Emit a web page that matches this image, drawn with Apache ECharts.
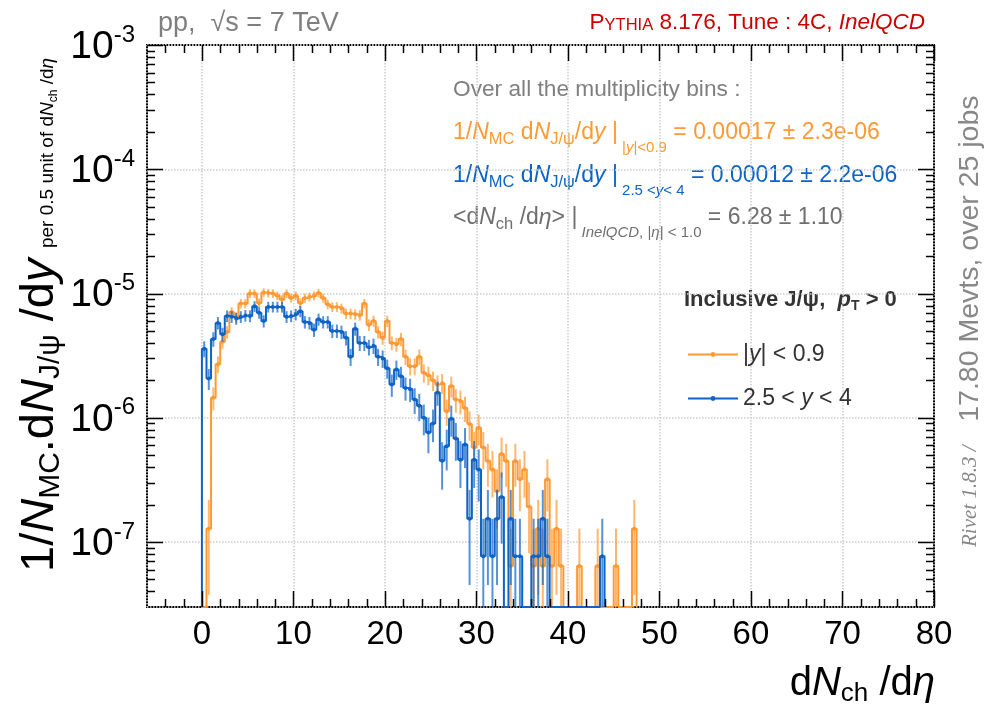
<!DOCTYPE html>
<html>
<head>
<meta charset="utf-8">
<script src="https://cdn.jsdelivr.net/npm/echarts@6/dist/echarts.min.js"></script>
<style>
  html, body { margin: 0; padding: 0; background: #fff; }
  #chart { width: 992px; height: 713px; }
</style>
</head>
<body>
<div id="chart"></div>
<script>
// histogram binning (per 0.5 unit of dNch/deta, first bin starts at 0)
var binStart = 0;
var binWidth = 0.5;

// |y| < 0.9 (orange), one value per bin
var centralVals = [
  0, 1.28e-7, 1.45e-6, 2.7e-6, 4.1e-6, 4.9e-6, 7.1e-6, 6.4e-6, 8.3e-6, 8.3e-6,
  1.0e-5, 1.0e-5, 8.4e-6, 1.02e-5, 1.01e-5, 1.0e-5, 9.6e-6, 8.95e-6, 1.0e-5, 9.2e-6,
  9.6e-6, 8.4e-6, 9.2e-6, 9.4e-6, 9.6e-6, 1.01e-5, 9.2e-6, 8.2e-6, 7.8e-6, 7.8e-6,
  7.6e-6, 6.9e-6, 6.9e-6, 6.8e-6, 6.7e-6, 8.3e-6, 5.6e-6, 6.0e-6, 4.9e-6, 4.4e-6,
  6.0e-6, 4.0e-6, 3.9e-6, 4.3e-6, 3.1e-6, 2.6e-6, 2.6e-6, 3.1e-6, 2.3e-6, 2.2e-6,
  2.0e-6, 1.85e-6, 1.9e-6, 1.13e-6, 1.8e-6, 1.4e-6, 1.36e-6, 1.2e-6, 8.9e-7, 5.76e-7,
  8.3e-7, 5.76e-7, 4.48e-7, 3.84e-7, 2.56e-7, 5.12e-7, 4.48e-7, 6.4e-8, 4.48e-7, 3.2e-7,
  3.84e-7, 1.92e-7, 6.4e-8, 1.28e-7, 6.4e-8, 3.2e-7, 6.4e-8, 1.28e-7, 6.4e-8, 0,
  0, 0, 6.4e-8, 0, 0, 0, 6.4e-8, 0, 0, 0,
  6.4e-8, 0, 0, 0, 1.28e-7
];

// 2.5 < y < 4 (blue)
var forwardVals = [
  3.6e-6, 2.07e-6, 4.3e-6, 5.8e-6, 4.7e-6, 6.6e-6, 6.5e-6, 6.3e-6, 6.5e-6, 6.65e-6,
  6.6e-6, 7.9e-6, 7.0e-6, 6.0e-6, 7.8e-6, 7.8e-6, 7.8e-6, 7.8e-6, 6.5e-6, 6.6e-6,
  6.8e-6, 7.2e-6, 5.9e-6, 5.8e-6, 5.1e-6, 6.2e-6, 5.9e-6, 5.9e-6, 5.0e-6, 5.0e-6,
  4.9e-6, 4.4e-6, 3.1e-6, 5.2e-6, 4.0e-6, 4.0e-6, 3.7e-6, 3.8e-6, 3.1e-6, 3.0e-6,
  2.5e-6, 1.85e-6, 2.45e-6, 2.16e-6, 1.74e-6, 1.7e-6, 1.4e-6, 1.25e-6, 1.0e-6, 7.6e-7,
  9.0e-7, 1.6e-6, 4.5e-7, 5.9e-7, 9.8e-7, 6.8e-7, 4.6e-7, 6.1e-7, 1.54e-7, 4.6e-7,
  3.84e-7, 7.7e-8, 1.54e-7, 7.7e-8, 1.54e-7, 2.3e-7, 0, 1.54e-7, 7.7e-8, 7.7e-8,
  0, 0, 7.7e-8, 7.7e-8, 1.54e-7, 7.7e-8, 0, 0, 0, 0,
  0, 0, 0, 0, 0, 0, 0, 7.7e-8
];

// weight of a single event in each histogram (smallest non-empty bin)
var centralEventWeight = 6.4e-8;
var forwardEventWeight = 7.7e-8;

// axes
var xMin = -6, xMax = 80;
var yMin = 3e-8, yMax = 1e-3;
var xTickLabels = ['0', '10', '20', '30', '40', '50', '60', '70', '80'];
var yDecades = [-7, -6, -5, -4, -3];

var xMajorTicks = xTickLabels.map(Number);
var xMinorTicks = [];
for (var t = -4; t < xMax; t += 2) { if (t % 10 !== 0) xMinorTicks.push(t); }
var yMajorTicks = yDecades.map(function (d) { return Math.pow(10, d); });
var yMinorTicks = [];
for (var d = -8; d <= -4; d++) {
  for (var k = 2; k <= 9; k++) {
    var v = k * Math.pow(10, d);
    if (v > yMin * 1.0001 && v < yMax) yMinorTicks.push(v);
  }
}

var FONT = '"Liberation Sans", Arial, Helvetica, sans-serif';
var ORANGE = '#ff9933';
var BLUE = '#0d64c6';
var GREY = '#7f7f7f';

function stepData(vals) {
  var out = [[binStart, yMin]];
  for (var i = 0; i < vals.length; i++) {
    out.push([binStart + i * binWidth, vals[i] > 0 ? vals[i] : yMin]);
  }
  var xEnd = binStart + vals.length * binWidth;
  var last = vals[vals.length - 1];
  out.push([xEnd, last > 0 ? last : yMin]);
  out.push([xEnd, yMin]);
  return out;
}

function errData(vals, w) {
  var out = [];
  for (var i = 0; i < vals.length; i++) {
    if (vals[i] > 0) out.push([binStart + (i + 0.5) * binWidth, vals[i], Math.sqrt(vals[i] * w)]);
  }
  return out;
}

function errRender(color) {
  return function (params, api) {
    var cs = params.coordSys;
    var x = api.value(0), v = api.value(1), e = api.value(2);
    var c = api.coord([x, v]);
    var top = Math.max(api.coord([x, v + e])[1], cs.y);
    var bottom = cs.y + cs.height;
    var lo = v - e > yMin ? api.coord([x, v - e])[1] : bottom;
    return {
      type: 'group',
      children: [
        { type: 'line', shape: { x1: c[0], y1: top, x2: c[0], y2: Math.min(lo, bottom) },
          style: { stroke: color, lineWidth: 2, opacity: 0.7 } },
        { type: 'circle', shape: { cx: c[0], cy: c[1], r: 2 }, style: { fill: color } }
      ]
    };
  };
}

// ticks on all four sides, drawn through the axis scales
function xTickRender(params, api) {
  var cs = params.coordSys;
  var px = Math.round(api.coord([api.value(0), yMax])[0]) + 0.5;
  var len = api.value(2);
  var b = cs.y + cs.height;
  return {
    type: 'group',
    children: [
      { type: 'line', shape: { x1: px, y1: b, x2: px, y2: b - len }, style: { stroke: '#000', lineWidth: 1.5 } },
      { type: 'line', shape: { x1: px, y1: cs.y, x2: px, y2: cs.y + len }, style: { stroke: '#000', lineWidth: 1.5 } }
    ]
  };
}
function yTickRender(params, api) {
  var cs = params.coordSys;
  var py = Math.round(api.coord([xMin, api.value(1)])[1]) + 0.5;
  var len = api.value(2);
  var r = cs.x + cs.width;
  return {
    type: 'group',
    children: [
      { type: 'line', shape: { x1: cs.x, y1: py, x2: cs.x + len, y2: py }, style: { stroke: '#000', lineWidth: 1.5 } },
      { type: 'line', shape: { x1: r, y1: py, x2: r - len, y2: py }, style: { stroke: '#000', lineWidth: 1.5 } }
    ]
  };
}

var xTickData = xMajorTicks.map(function (x) { return [x, 1e-5, 16]; })
  .concat(xMinorTicks.map(function (x) { return [x, 1e-5, 8]; }));
var yTickData = yMajorTicks.map(function (y) { return [0, y, 16]; })
  .concat(yMinorTicks.map(function (y) { return [0, y, 8]; }));

// rich text style helper
function rs(size, lh, extra) {
  var o = { fontSize: size, fontFamily: FONT, lineHeight: lh, verticalAlign: 'middle' };
  if (extra) for (var key in extra) o[key] = extra[key];
  return o;
}
function annoRich(color) {
  return {
    n: rs(23, 30, { fill: color }),
    i: rs(23, 30, { fill: color, fontStyle: 'italic' }),
    s: rs(16.5, 30, { fill: color, padding: [12, 0, 0, 0] }),
    ss: rs(15, 30, { fill: color, padding: [30, 0, 0, 0] }),
    ssi: rs(15, 30, { fill: color, fontStyle: 'italic', padding: [30, 0, 0, 0] })
  };
}

var chart = echarts.init(document.getElementById('chart'));

var option = {
  animation: false,
  backgroundColor: '#fff',
  grid: {
    left: 147, right: 58, top: 45, bottom: 106,
    show: true, borderColor: '#000', borderWidth: 2,
    outerBoundsMode: 'none'
  },
  xAxis: {
    type: 'value',
    min: xMin, max: xMax,
    minInterval: 10, maxInterval: 10, splitNumber: 9,
    axisLine: { show: false },
    axisTick: { show: false },
    splitLine: { show: true, lineStyle: { color: '#cccccc', type: 'dotted', width: 1.5 } },
    axisLabel: {
      margin: 11,
      color: '#000', fontFamily: FONT, fontSize: 33,
      showMinLabel: false,
      formatter: function (v) {
        var s = String(v);
        return xTickLabels.indexOf(s) >= 0 ? s : '';
      }
    }
  },
  yAxis: {
    type: 'log', logBase: 10,
    min: yMin, max: yMax,
    axisLine: { show: false },
    axisTick: { show: false },
    splitLine: { show: true, lineStyle: { color: '#cccccc', type: 'dotted', width: 1.5 } },
    axisLabel: {
      margin: 12,
      color: '#000',
      formatter: function (v) {
        var e = Math.round(Math.log10(v));
        if (Math.abs(Math.log10(v) - e) > 1e-6 || yDecades.indexOf(e) < 0) return '';
        return '{b|10}{e|' + e + '}';
      },
      rich: {
        b: { fontSize: 39, fontFamily: FONT, color: '#000', lineHeight: 40, verticalAlign: 'middle', padding: [4, 0, 0, 0] },
        e: { fontSize: 24, fontFamily: FONT, color: '#000', lineHeight: 40, verticalAlign: 'middle', padding: [0, 0, 20, 0] }
      }
    }
  },
  legend: {
    left: 682, top: 338,
    orient: 'vertical',
    itemWidth: 50, itemHeight: 6, itemGap: 21,
    data: ['central', 'forward'],
    formatter: function (name) {
      return name === 'central' ? '{t||}{i|y}{t|| < 0.9}' : '{t|2.5 < }{i|y}{t| < 4}';
    },
    textStyle: {
      color: '#333',
      rich: {
        t: { fontSize: 23, fontFamily: FONT, color: '#333', lineHeight: 28 },
        i: { fontSize: 23, fontFamily: FONT, color: '#333', fontStyle: 'italic', lineHeight: 28 }
      }
    }
  },
  series: [
    {
      name: 'central', type: 'line', step: 'end',
      data: stepData(centralVals),
      symbol: 'circle', symbolSize: 4, showSymbol: false,
      lineStyle: { color: ORANGE, width: 2 }, itemStyle: { color: ORANGE },
      clip: true, z: 3
    },
    {
      name: 'forward', type: 'line', step: 'end',
      data: stepData(forwardVals),
      symbol: 'circle', symbolSize: 4, showSymbol: false,
      lineStyle: { color: BLUE, width: 2 }, itemStyle: { color: BLUE },
      clip: true, z: 4
    },
    {
      name: 'centralErr', type: 'custom', renderItem: errRender(ORANGE),
      data: errData(centralVals, centralEventWeight), encode: { x: 0, y: 1 }, z: 3, silent: true
    },
    {
      name: 'forwardErr', type: 'custom', renderItem: errRender(BLUE),
      data: errData(forwardVals, forwardEventWeight), encode: { x: 0, y: 1 }, z: 4, silent: true
    },
    {
      name: 'xTicks', type: 'custom', renderItem: xTickRender,
      data: xTickData, encode: { x: 0, y: 1 }, z: 10, silent: true
    },
    {
      name: 'yTicks', type: 'custom', renderItem: yTickRender,
      data: yTickData, encode: { x: 0, y: 1 }, z: 10, silent: true
    }
  ],
  graphic: [
    // top labels
    { type: 'text', x: 158, y: 24, style: {
      text: 'pp,  √s = 7 TeV', fill: GREY, font: '27px ' + FONT, verticalAlign: 'middle' } },
    { type: 'text', x: 925, y: 23, style: {
      text: '{n|P}{c|YTHIA}{n| 8.176, Tune : 4C, }{i|InelQCD}', align: 'right', verticalAlign: 'middle',
      rich: {
        n: rs(22.5, 30, { fill: '#cc0000' }),
        c: rs(16.5, 30, { fill: '#cc0000', padding: [4, 0, 0, 0] }),
        i: rs(22.5, 30, { fill: '#cc0000', fontStyle: 'italic' })
      } } },
    // annotation block
    { type: 'text', x: 453, y: 90, style: {
      text: 'Over all the multiplicity bins :', fill: GREY, font: '22.7px ' + FONT, verticalAlign: 'middle' } },
    { type: 'text', x: 453, y: 133, style: {
      text: '{n|1/}{i|N}{s|MC}{n| d}{i|N}{s|J/ψ}{n|/d}{i|y}{n| |}{ss| |}{ssi|y}{ss||<0.9}{n| = 0.00017 ± 2.3e-06}',
      verticalAlign: 'middle', rich: annoRich(ORANGE) } },
    { type: 'text', x: 453, y: 176, style: {
      text: '{n|1/}{i|N}{s|MC}{n| d}{i|N}{s|J/ψ}{n|/d}{i|y}{n| |}{ss| 2.5 <}{ssi|y}{ss|< 4}{n| = 0.00012 ± 2.2e-06}',
      verticalAlign: 'middle', rich: annoRich(BLUE) } },
    { type: 'text', x: 453, y: 218, style: {
      text: '{n|<d}{i|N}{s|ch}{n| /d}{i|η}{n|> |}{ssi| InelQCD}{ss|, |}{ssi|η}{ss|| < 1.0}{n| = 6.28 ± 1.10}',
      verticalAlign: 'middle', rich: annoRich('#6f6f6f') } },
    // legend title
    { type: 'text', x: 684, y: 300, style: {
      text: '{b|Inclusive J/ψ,  }{bi|p}{bs|T}{b| > 0}', verticalAlign: 'middle',
      rich: {
        b: rs(22, 28, { fill: '#333', fontWeight: 'bold' }),
        bi: rs(22, 28, { fill: '#333', fontWeight: 'bold', fontStyle: 'italic' }),
        bs: rs(14, 28, { fill: '#333', fontWeight: 'bold', padding: [12, 0, 0, 0] })
      } } },
    // y axis title
    { type: 'text', x: 40, y: 572, rotation: Math.PI / 2, style: {
      text: '{b|1/}{bi|N}{bs|MC}{b|.d}{bi|N}{bs|J/ψ}{b| /d}{bi|y}{p|  per 0.5 unit of d}{pi|N}{ps|ch}{p| /d}{pi|η}',
      align: 'left', verticalAlign: 'middle',
      rich: {
        b: rs(47, 54, { fill: '#000' }),
        bi: rs(47, 54, { fill: '#000', fontStyle: 'italic' }),
        bs: rs(30, 54, { fill: '#000', padding: [22, 0, 0, 0] }),
        p: rs(19, 54, { fill: '#000', padding: [16, 0, 0, 0] }),
        pi: rs(19, 54, { fill: '#000', fontStyle: 'italic', padding: [16, 0, 0, 0] }),
        ps: rs(12, 54, { fill: '#000', padding: [28, 0, 0, 0] })
      } } },
    // x axis title
    { type: 'text', x: 935, y: 684, style: {
      text: '{n|d}{i|N}{s|ch}{n| /d}{i|η}', align: 'right', verticalAlign: 'middle',
      rich: {
        n: rs(40, 46, { fill: '#000' }),
        i: rs(40, 46, { fill: '#000', fontStyle: 'italic' }),
        s: rs(26, 46, { fill: '#000', padding: [20, 0, 0, 0] })
      } } },
    // right-hand side run info
    { type: 'text', x: 970, y: 547, rotation: Math.PI / 2, style: {
      text: '{r|Rivet 1.8.3 /}{n|   17.80 Mevts, over 25 jobs}', align: 'left', verticalAlign: 'middle',
      rich: {
        r: rs(21, 32, { fill: '#888', fontFamily: '"Liberation Serif", "DejaVu Serif", serif', fontStyle: 'italic' }),
        n: rs(28.5, 32, { fill: '#888' })
      } } }
  ]
};

chart.setOption(option);
</script>
</body>
</html>
